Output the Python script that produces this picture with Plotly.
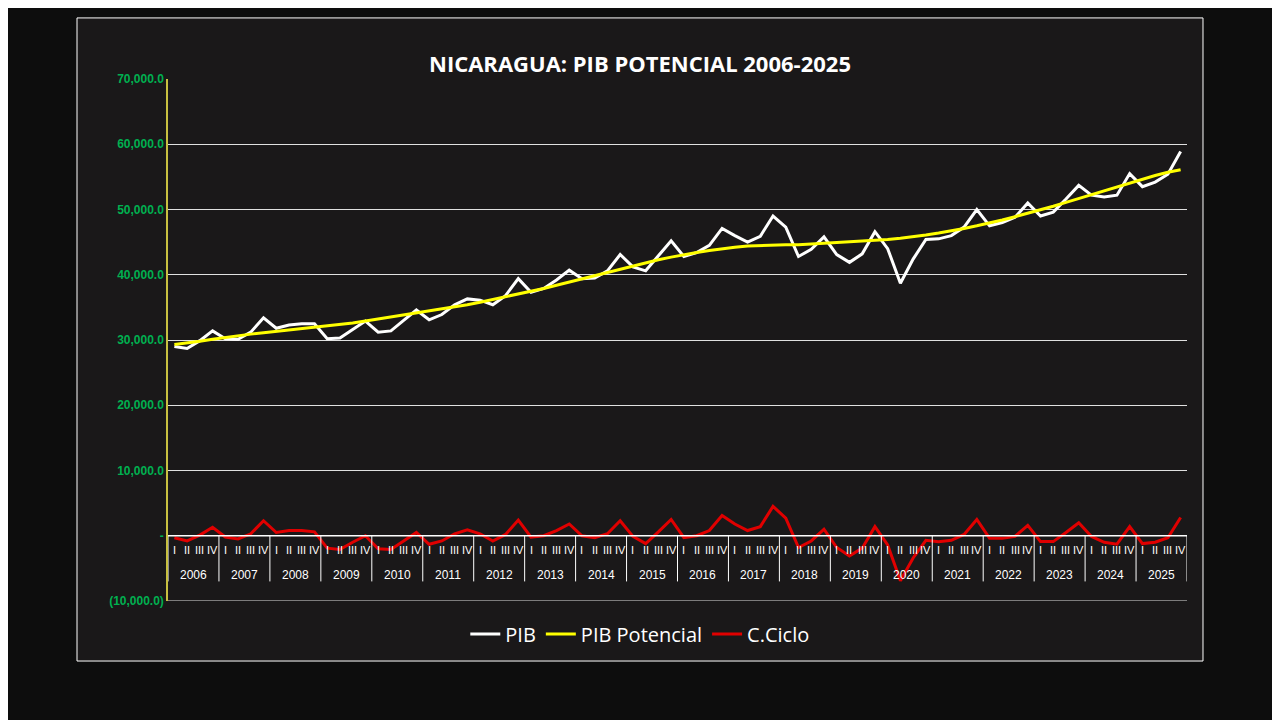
import plotly.graph_objects as go

years = [str(y) for y in range(2006, 2026)]
quarters = ["I", "II", "III", "IV"]

pib = [29.0, 28.7, 29.9, 31.4, 30.2, 30.1, 31.2, 33.4, 31.8, 32.3, 32.5, 32.5,
       30.2, 30.3, 31.6, 32.9, 31.2, 31.4, 33.0, 34.6, 33.1, 33.9, 35.4, 36.3,
       36.1, 35.4, 36.8, 39.4, 37.3, 37.9, 39.2, 40.7, 39.4, 39.5, 40.6, 43.1,
       41.2, 40.6, 42.9, 45.2, 42.8, 43.4, 44.5, 47.1, 46.0, 45.0, 45.9, 49.0,
       47.3, 42.8, 43.9, 45.8, 43.1, 41.9, 43.2, 46.6, 44.0, 38.7, 42.4, 45.4,
       45.5, 46.0, 47.3, 50.0, 47.5, 48.0, 48.8, 51.0, 49.0, 49.6, 51.6, 53.7,
       52.2, 51.9, 52.2, 55.5, 53.5, 54.2, 55.4, 58.9]
pib_pot = [29.3, 29.5, 29.8, 30.1, 30.4, 30.6, 30.9, 31.1, 31.3, 31.5, 31.7, 31.9,
           32.1, 32.4, 32.6, 32.9, 33.2, 33.5, 33.8, 34.1, 34.4, 34.7, 35.1, 35.4,
           35.8, 36.2, 36.6, 37.0, 37.5, 37.9, 38.4, 38.9, 39.4, 39.8, 40.3, 40.8,
           41.3, 41.8, 42.3, 42.7, 43.1, 43.4, 43.7, 44.0, 44.2, 44.4, 44.5, 44.5,
           44.6, 44.6, 44.7, 44.8, 44.9, 45.0, 45.1, 45.2, 45.4, 45.6, 45.8, 46.1,
           46.4, 46.7, 47.1, 47.5, 47.9, 48.4, 48.9, 49.4, 49.9, 50.5, 51.1, 51.7,
           52.3, 52.9, 53.5, 54.1, 54.7, 55.2, 55.7, 56.1]
ciclo = [-0.3, -0.8, 0.1, 1.3, -0.2, -0.5, 0.3, 2.3, 0.5, 0.8, 0.8, 0.6,
         -1.9, -2.1, -1.0, 0.0, -2.0, -2.1, -0.8, 0.5, -1.3, -0.8, 0.3, 0.9,
         0.3, -0.8, 0.2, 2.4, -0.2, 0.0, 0.8, 1.8, 0.0, -0.3, 0.3, 2.3,
         -0.1, -1.2, 0.6, 2.5, -0.3, 0.0, 0.8, 3.1, 1.8, 0.8, 1.4, 4.5,
         2.7, -1.8, -0.8, 1.0, -1.8, -3.1, -1.9, 1.4, -1.4, -6.9, -3.4, -0.7,
         -0.9, -0.7, 0.2, 2.5, -0.4, -0.4, -0.1, 1.6, -0.9, -0.9, 0.5, 2.0,
         -0.1, -1.0, -1.3, 1.4, -1.2, -1.0, -0.3, 2.8]

x = list(range(len(pib)))
k = lambda v: [a * 1000 for a in v]

fig = go.Figure()
fig.add_trace(go.Scatter(x=x, y=k(pib), mode="lines", name="PIB",
                         line=dict(color="white", width=3)))
fig.add_trace(go.Scatter(x=x, y=k(pib_pot), mode="lines", name="PIB Potencial",
                         line=dict(color="#ffff00", width=3)))
fig.add_trace(go.Scatter(x=x, y=k(ciclo), mode="lines", name="C.Ciclo",
                         line=dict(color="#e00000", width=3)))

# chart box
fig.add_shape(type="rect", xref="paper", yref="paper", x0=-0.0893, x1=1.0157,
              y0=-0.115, y1=1.117, fillcolor="#1a1819",
              line=dict(color="white", width=1), layer="below")
# zero line, bottom line and year separators
fig.add_shape(type="line", x0=-0.5, x1=79.5, y0=0, y1=0,
              line=dict(color="white", width=1.5))
fig.add_shape(type="line", x0=-0.5, x1=79.5, y0=-10000, y1=-10000,
              line=dict(color="#e0e0e0", width=1))
for i in range(len(years) + 1):
    fig.add_shape(type="line", x0=i * 4 - 0.5, x1=i * 4 - 0.5, y0=0, y1=-7000,
                  line=dict(color="white", width=1))
for i, yr in enumerate(years):
    fig.add_annotation(x=i * 4 + 1.5, y=-6000, text=yr, showarrow=False,
                       font=dict(color="white", size=12, family="Liberation Sans Narrow, Liberation Sans"))
    for j, q in enumerate(quarters):
        fig.add_annotation(x=i * 4 + j, y=-2200, text=q, showarrow=False,
                           font=dict(color="white", size=11, family="Liberation Sans Narrow, Liberation Sans"))

fig.add_annotation(xref="paper", yref="paper", x=0.463, y=1.063,
                   text="<b>NICARAGUA: PIB POTENCIAL 2006-2025</b>", showarrow=False,
                   font=dict(color="white", size=22, family="Open Sans"))

tickvals = list(range(-10000, 70001, 10000))
ticktext = ["<b>(10,000.0)</b>", "<b>-</b>"] + [f"<b>{v:,.1f}</b>" for v in tickvals[2:]]

fig.update_layout(
    width=1280, height=720,
    paper_bgcolor="#0d0d0d", plot_bgcolor="rgba(0,0,0,0)",
    margin=dict(l=160, r=101, t=71, b=127),
    xaxis=dict(range=[-0.5, 79.5], showticklabels=False, showgrid=False,
               zeroline=False, showline=False),
    yaxis=dict(range=[-10000, 70000], tickvals=tickvals, ticktext=ticktext,
               tickfont=dict(color="#00b050", size=12, family="Liberation Sans"),
               gridcolor="#e0e0e0", gridwidth=1, zeroline=False,
               showline=True, linecolor="#c8c040", linewidth=1.5),
    legend=dict(orientation="h", x=0.463, xanchor="center", y=-0.063, yanchor="middle",
                font=dict(color="white", size=20, family="Open Sans"),
                bgcolor="rgba(0,0,0,0)"),
)
fig.write_html("out.html")
